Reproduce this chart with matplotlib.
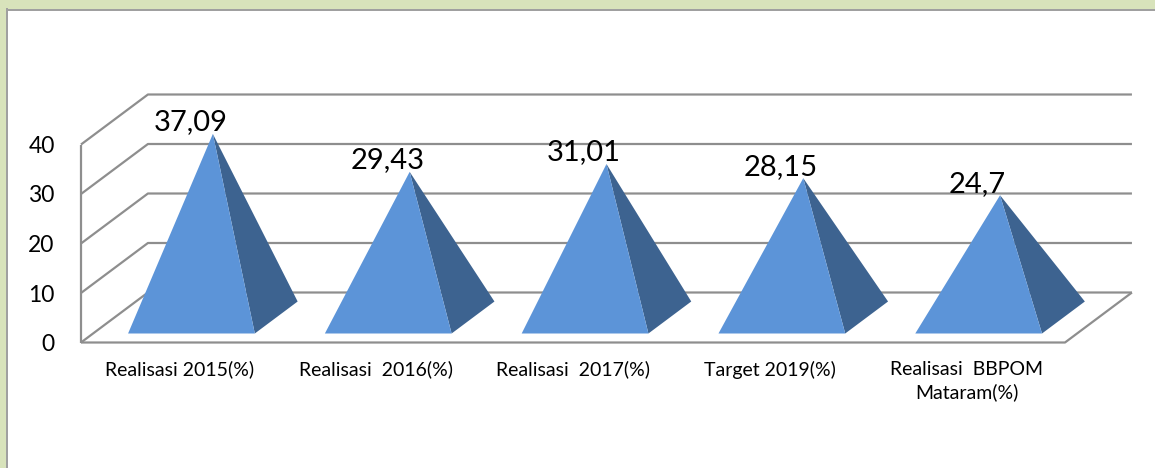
"""Pyramid chart in pseudo 3D, drawn on a plain axes with a depth offset."""
import matplotlib
matplotlib.use('Agg')
import matplotlib.pyplot as plt
from matplotlib.patches import Polygon, Rectangle

plt.rcParams['font.family'] = ['Lato', 'DejaVu Sans']

categories = ['Realisasi 2015(%)', 'Realisasi  2016(%)', 'Realisasi  2017(%)',
              'Target 2019(%)', 'Realisasi  BBPOM\nMataram(%)']
values = [37.09, 29.43, 31.01, 28.15, 24.7]
value_labels = ['37,09', '29,43', '31,01', '28,15', '24,7']
y_ticks = [0, 10, 20, 30, 40]

W, H = 1155, 468
GRID = '#8e8e8e'
FRONT = '#5c94d8'
SIDE = '#3d6390'

# depth of the box, as offset in data units at the back wall
DEPTH_X = 67 / 197
DEPTH_Y = 50 / 4.95
HALF_W = 0.322
D_FRONT, D_BACK = 0.18, 0.82


def project(x, y, d):
    return x + d * DEPTH_X, y + d * DEPTH_Y


fig = plt.figure(figsize=(W / 100, H / 100), dpi=100, facecolor='white')

# green frame at top and left, grey inner edge
for box, color in [((0, H - 9, W, 9), '#d8e3bb'), ((0, 0, 6, H), '#d8e3bb'),
                   ((6, 0, 1.6, H - 8), '#a0a0a0'), ((6, H - 10.5, W, 1.6), '#a0a0a0')]:
    fig.add_artist(Rectangle((box[0] / W, box[1] / H), box[2] / W, box[3] / H,
                             transform=fig.transFigure, color=color, lw=0))

ax = fig.add_axes([81 / W, (H - 342.5) / H, 984 / W, 198 / H])
ax.set_xlim(0, len(categories))
ax.set_ylim(0, 40)
for s in ax.spines.values():
    s.set_visible(False)
ax.patch.set_visible(False)

n = len(categories)
line_kw = dict(color=GRID, lw=1.6, clip_on=False, solid_capstyle='butt', zorder=1)

# walls and floor
for t in y_ticks:
    bx, by = project(0, t, 1)
    ex, ey = project(n, t, 1)
    ax.plot([0, bx, ex], [t, by, ey], **line_kw)
ax.plot([0, 0], [0, 40], **line_kw)
ex, ey = project(n, 0, 1)
ax.plot([0, n, ex], [0, 0, ey], **line_kw)

# pyramids
for i, (val, lab) in enumerate(zip(values, value_labels)):
    c = i + 0.5
    fl = project(c - HALF_W, 0, D_FRONT)
    fr = project(c + HALF_W, 0, D_FRONT)
    br = project(c + HALF_W, 0, D_BACK)
    apex = project(c, val, 0.5)
    ax.add_patch(Polygon([fr, br, apex], closed=True, color=SIDE, lw=0, clip_on=False, zorder=3))
    ax.add_patch(Polygon([fl, fr, apex], closed=True, color=FRONT, lw=0, clip_on=False, zorder=4))
    ax.annotate(lab, xy=apex, xytext=(-22.5 * 0.72, 2.5), textcoords='offset points',
                ha='center', va='baseline', fontsize=21, color='black', zorder=5,
                annotation_clip=False)

ax.set_yticks(y_ticks)
ax.set_yticklabels([str(t) for t in y_ticks], fontsize=16.5, color='black', va='center_baseline')
ax.set_xticks([i + 0.5 for i in range(n)])
ax.set_xticklabels(categories, fontsize=14, color='black', linespacing=1.38)
ax.tick_params(axis='y', length=0, pad=19)
ax.tick_params(axis='x', length=0, pad=13)

fig.savefig('out.png', dpi=100)
